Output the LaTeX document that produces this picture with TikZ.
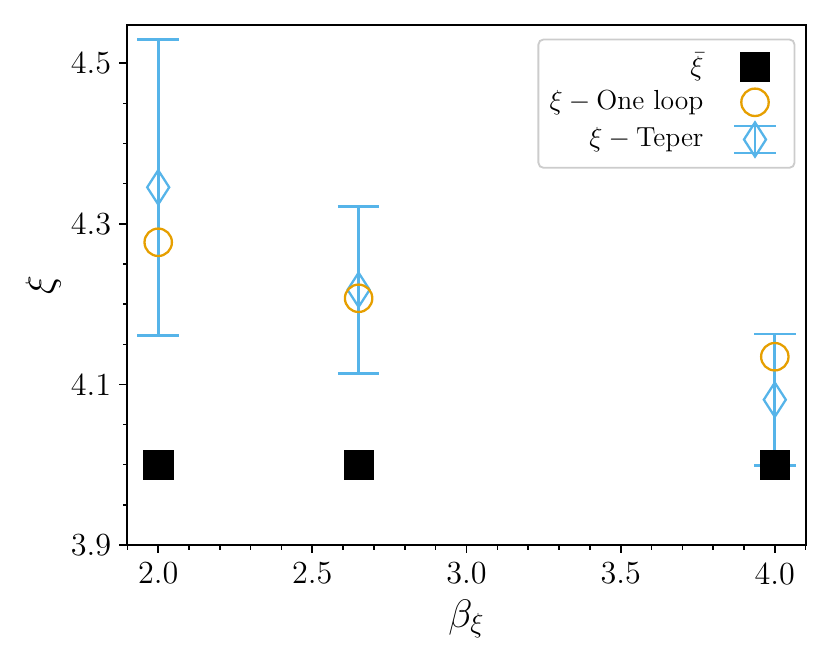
\documentclass[tikz,border=0pt]{standalone}
\usepackage{amsmath}
\usetikzlibrary{shapes.geometric}
\definecolor{skyb}{HTML}{56B4E9}
\definecolor{orng}{HTML}{E69F00}
\definecolor{legframe}{HTML}{CCCCCC}
\begin{document}
\begin{tikzpicture}[x=0.43536pt, y=-0.43536pt,
  spine/.style={line width=0.8pt, black},
  majtick/.style={line width=0.8pt, black},
  mintick/.style={line width=0.6pt, black},
  ticklab/.style={inner sep=0pt, font=\fontsize{14}{16}\selectfont},
  axlab/.style={inner sep=0pt, font=\fontsize{17.5}{20}\selectfont},
  leglab/.style={inner sep=0pt, anchor=east, font=\fontsize{12}{14}\selectfont},
  eb/.style={draw=skyb, line width=1.2pt},
  sqmark/.style={rectangle, fill=black, draw=black, line width=0.3pt, minimum size=12.8pt, inner sep=0pt},
  circmark/.style={circle, draw=orng, line width=1pt, minimum size=11.93pt, inner sep=0pt},
  diamark/.style={diamond, draw=skyb, line width=1pt, minimum width=10pt, minimum height=15.3pt, inner sep=0pt}]
\useasboundingbox (0,0) rectangle (830,664);

% ---- ticks ----
\foreach \i in {19,...,41} {
  \pgfmathsetmacro{\xx}{158.2+(\i-20)*30.83}
  \pgfmathtruncatemacro{\m}{mod(\i,5)}
  \ifnum\m=0
    \draw[majtick] (\xx,545) -- ++(0,8);
  \else
    \draw[mintick] (\xx,545) -- ++(0,4.6);
  \fi
}
\foreach \i in {78,...,90} {
  \pgfmathsetmacro{\yy}{545-(\i-78)*40.14}
  \pgfmathtruncatemacro{\m}{mod(\i,4)}
  \ifnum\m=2
    \draw[majtick] (127.4,\yy) -- ++(-8,0);
  \else
    \draw[mintick] (127.4,\yy) -- ++(-4.6,0);
  \fi
}
% x tick labels
\node[ticklab, anchor=north] (xt20) at (158.2,562) {2.0};
\node[ticklab, anchor=north] (xt25) at (312.35,562) {2.5};
\node[ticklab, anchor=north] (xt30) at (466.5,562) {3.0};
\node[ticklab, anchor=north] (xt35) at (620.65,562) {3.5};
\node[ticklab, anchor=north] (xt40) at (774.8,562) {4.0};
% y tick labels
\node[ticklab, anchor=east] (yt39) at (111.5,545) {3.9};
\node[ticklab, anchor=east] (yt41) at (111.5,384.4) {4.1};
\node[ticklab, anchor=east] (yt43) at (111.5,223.9) {4.3};
\node[ticklab, anchor=east] (yt45) at (111.5,63.3) {4.5};
% axis labels
\node[axlab, anchor=base] (xlab) at (466.5,627) {$\beta_\xi$};
\node[axlab, rotate=90] (ylab) at (43.3,285) {$\xi$};

% ---- Teper error bars ----
\foreach \xx/\tp/\bt/\dm in {158.2/39.2/335.5/187.3, 358.6/206.3/373.3/289.8, 774.8/334/465.3/399.7} {
  \draw[eb] (\xx,\tp) -- (\xx,\bt);
  \draw[eb] (\xx-20.8,\tp) -- (\xx+20.8,\tp);
  \draw[eb] (\xx-20.8,\bt) -- (\xx+20.8,\bt);
  \node[diamark] at (\xx,\dm) {};
}
% ---- one loop ----
\node[circmark] (c1) at (158.2,242.3) {};
\node[circmark] (c2) at (358.6,298.3) {};
\node[circmark] (c3) at (774.8,356.7) {};
% ---- xi bar ----
\node[sqmark] (s1) at (158.2,464.7) {};
\node[sqmark] (s2) at (358.6,464.7) {};
\node[sqmark] (s3) at (774.8,464.7) {};

% ---- axes frame ----
\draw[spine] (127.4,24.7) rectangle (805.6,545);

% ---- legend ----
\draw[draw=legframe, fill=white, line width=0.8pt, rounded corners=2.2pt] (538.4,39.5) rectangle (794.5,167.8);
\node[leglab] (l1) at (704,67) {$\bar{\xi}$};
\node[leglab] (l2) at (704,102.3) {$\xi - \mathrm{One\ loop}$};
\node[leglab] (l3) at (704,139.5) {$\xi - \mathrm{Teper}$};
\node[sqmark] (lm1) at (755,67) {};
\node[circmark] (lm2) at (755,102.3) {};
\draw[eb] (755,126) -- (755,153);
\draw[eb] (734.2,126) -- (775.8,126);
\draw[eb] (734.2,153) -- (775.8,153);
\node[diamark] (lm3) at (755,139.5) {};
\end{tikzpicture}
\end{document}
